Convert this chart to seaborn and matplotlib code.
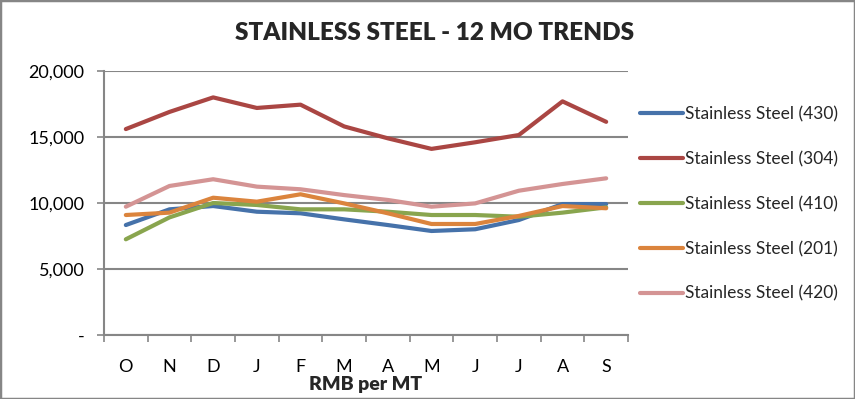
import matplotlib
matplotlib.use("Agg")
import matplotlib.pyplot as plt
import matplotlib.ticker as mticker
from matplotlib.patches import Rectangle
import seaborn as sns
import pandas as pd

months = ["O", "N", "D", "J", "F", "M", "A", "M", "J", "J", "A", "S"]
series_names = ["Stainless Steel (430)", "Stainless Steel (304)", "Stainless Steel (410)",
                "Stainless Steel (201)", "Stainless Steel (420)"]
ss430 = [8330, 9520, 9770, 9340, 9220, 8760, 8330, 7880, 8010, 8710, 9920, 9920]
ss304 = [15600, 16900, 18000, 17200, 17450, 15800, 14900, 14100, 14600, 15150, 17700, 16150]
ss410 = [7250, 8910, 10000, 9850, 9520, 9520, 9340, 9090, 9090, 8960, 9270, 9670]
ss201 = [9090, 9270, 10400, 10100, 10660, 9970, 9220, 8410, 8410, 9020, 9770, 9600]
ss420 = [9720, 11290, 11800, 11240, 11040, 10600, 10230, 9720, 9970, 10930, 11440, 11870]
colors = ["#4672AA", "#AA4643", "#89A54E", "#DB843D", "#D49494"]

rows = []
for name, vals in zip(series_names, [ss430, ss304, ss410, ss201, ss420]):
    for i, v in enumerate(vals):
        rows.append({"pos": i, "value": v, "series": name})
df = pd.DataFrame(rows)

sns.set_theme(style="white")
plt.rcParams["font.family"] = ["Lato", "DejaVu Sans"]

W, H = 855, 399
fig = plt.figure(figsize=(W / 100, H / 100), dpi=100)
ax = fig.add_axes([104 / W, 1 - 335 / H, (628 - 104) / W, (335 - 71) / H])

sns.lineplot(data=df, x="pos", y="value", hue="series", hue_order=series_names,
             palette=colors, linewidth=3.0, ax=ax, legend=False, sort=False)

grid_c = "#868686"
ax.set_ylim(0, 20000)
ax.set_xlim(-0.5, 11.5)
ax.yaxis.set_major_locator(mticker.MultipleLocator(5000))
ax.yaxis.set_major_formatter(mticker.FuncFormatter(lambda v, p: "-" if v == 0 else f"{int(v):,}"))
ax.set_xticks(range(12))
ax.set_xticklabels(months)
ax.set_xticks([i - 0.5 for i in range(13)], minor=True)
ax.grid(axis="y", color=grid_c, linewidth=1.5)
ax.set_axisbelow(True)
for s in ["top", "right"]:
    ax.spines[s].set_visible(False)
for s in ["left", "bottom"]:
    ax.spines[s].set_color(grid_c)
    ax.spines[s].set_linewidth(1.5)
ax.tick_params(axis="y", which="major", length=5, width=1.2, color=grid_c, direction="out",
               left=True, labelsize=13, pad=9, labelcolor="black")
ax.tick_params(axis="x", which="major", length=0, labelsize=13, pad=17, labelcolor="black")
ax.tick_params(axis="x", which="minor", length=5, width=1.2, color=grid_c, direction="out", bottom=True)
ax.set_xlabel("RMB per MT", fontsize=14, fontweight="heavy", labelpad=1)
ax.set_ylabel("")

fig.text(435 / W, 1 - 33 / H, "STAINLESS STEEL - 12 MO TRENDS", ha="center", va="center",
         fontsize=17.5, fontweight="heavy")

handles = [plt.Line2D([0], [0], color=c, linewidth=3.0, solid_capstyle="round") for c in colors]
fig.legend(handles, series_names, loc="upper left", bbox_to_anchor=(640 / W, 1 - 106 / H),
           frameon=False, fontsize=12.5, handlelength=2.45, handletextpad=0.12,
           labelspacing=1.66, borderpad=0, borderaxespad=0)

fig.patches.append(Rectangle((0, 0), 1, 1, transform=fig.transFigure, fill=False,
                             edgecolor=grid_c, linewidth=2.5))
fig.savefig("out.png", dpi=100)
